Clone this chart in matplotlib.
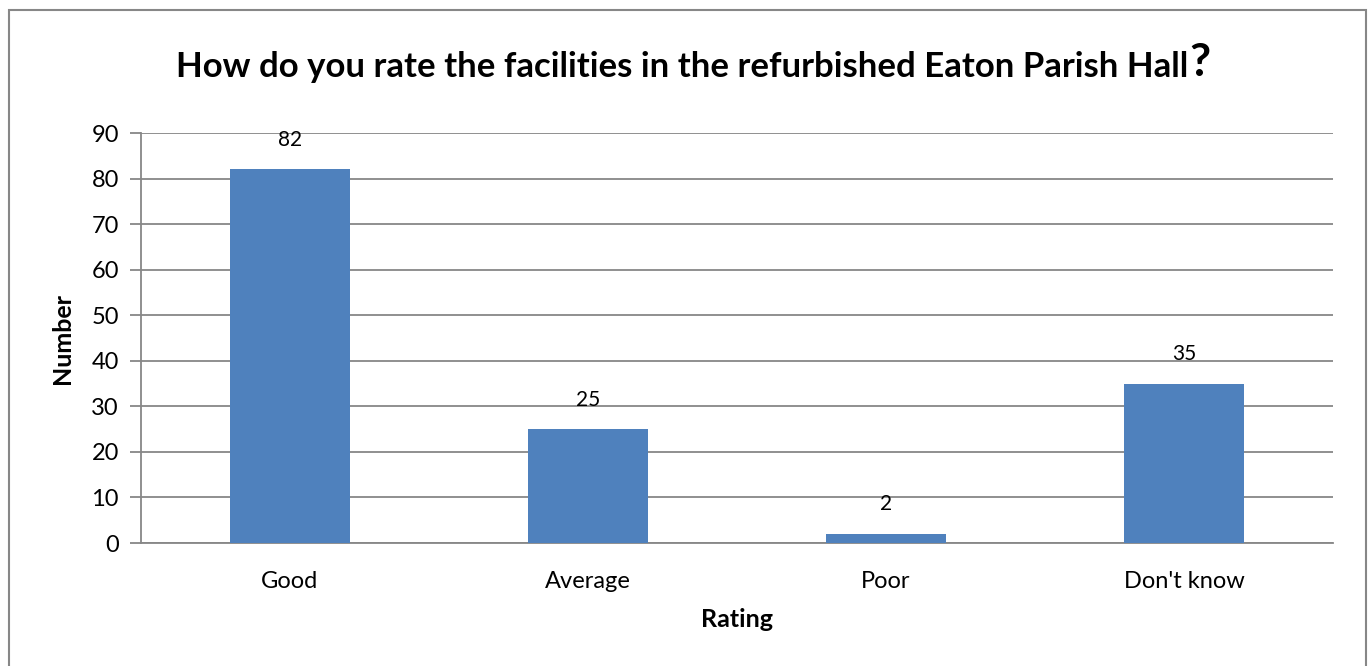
import matplotlib
matplotlib.use("Agg")
import matplotlib.pyplot as plt
from matplotlib.patches import Rectangle

categories = ["Good", "Average", "Poor", "Don't know"]
values = [82, 25, 2, 35]
yticks = [0, 10, 20, 30, 40, 50, 60, 70, 80, 90]

plt.rcParams['font.family'] = ['Lato', 'DejaVu Sans']

W, H = 1368, 666
fig = plt.figure(figsize=(W/100, H/100), dpi=100)
ax = fig.add_axes([141/W, 1-543/H, (1333-141)/W, (543-133)/H])

x = list(range(len(categories)))
bars = ax.bar(x, values, width=0.4, color="#4F81BD", zorder=3)
ax.set_xlim(-0.5, len(categories)-0.5)
ax.set_ylim(0, 90)
ax.set_yticks(yticks)
ax.set_xticks(x)
ax.set_xticklabels(categories, fontsize=17)
ax.tick_params(axis='x', length=0, pad=20)
ax.tick_params(axis='y', length=8, width=1.3, color="#878787", labelsize=17, pad=8)
ax.yaxis.grid(True, color="#878787", linewidth=1.3, zorder=0)
for s in ["top", "right"]:
    ax.spines[s].set_visible(False)
for s in ["left", "bottom"]:
    ax.spines[s].set_color("#878787")
    ax.spines[s].set_linewidth(1.3)

for xi, v in zip(x, values):
    ax.annotate(str(v), (xi, v), xytext=(0, 14), textcoords="offset points",
                ha="center", va="bottom", fontsize=15)

ax.set_ylabel("Number", fontsize=18, fontweight="bold", labelpad=12)
ax.set_xlabel("Rating", fontsize=18, fontweight="bold", labelpad=12)

t = fig.text(682/W, 1-67/H, "How do you rate the facilities in the refurbished Eaton Parish Hall",
             ha="center", va="center", fontsize=25, fontweight="bold")
ax.annotate("?", xy=(1, 0), xycoords=t, xytext=(1, -1), textcoords="offset points",
            ha="left", va="bottom", fontsize=33, fontweight="bold")

fig.patches.append(Rectangle((9/W, -0.05), (1366-9)/W, 1.05-10/H, transform=fig.transFigure,
                             fill=False, edgecolor="#878787", linewidth=1.5))

fig.savefig("out.png", dpi=100)
